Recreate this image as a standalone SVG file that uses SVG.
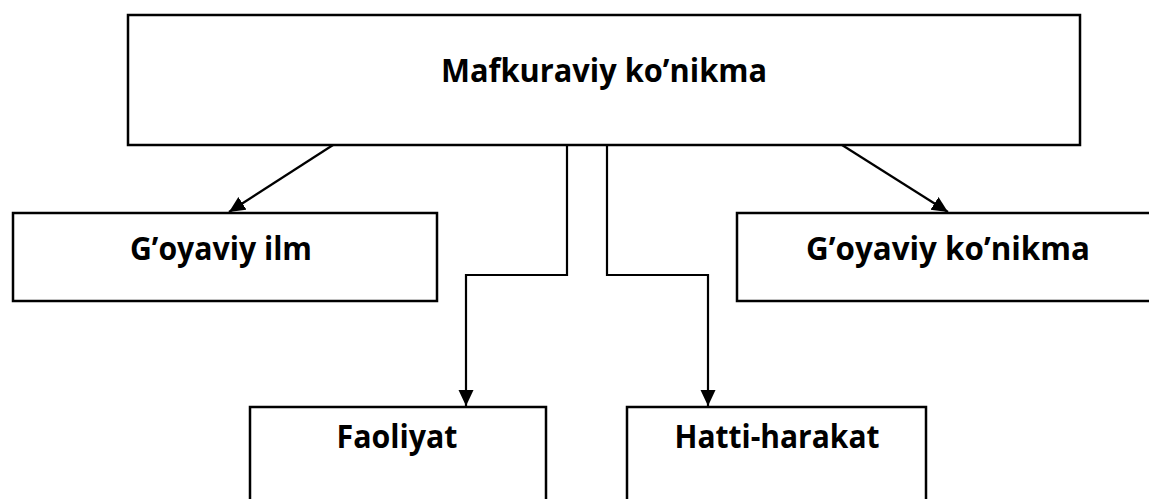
<svg xmlns="http://www.w3.org/2000/svg" width="1149" height="499" viewBox="0 0 1149 499">
  <style>
    .box { fill: #ffffff; stroke: #000000; stroke-width: 2.5; }
    .lbl { font-family: "Open Sans", "Noto Sans", "DejaVu Sans", sans-serif; font-weight: bold; font-size: 32px; fill: #000000; text-anchor: middle; }
    .conn { fill: none; stroke: #000000; stroke-width: 2.2; }
  </style>
  <defs>
    <marker id="arrow" markerUnits="userSpaceOnUse" markerWidth="16" markerHeight="16" refX="16" refY="7.5" orient="auto">
      <path d="M0,0 L16,7.5 L0,15 Z" fill="#000000"/>
    </marker>
  </defs>
  <rect width="1149" height="499" fill="#ffffff"/>

  <g id="node-mafkuraviy">
    <rect class="box" x="128" y="15" width="952" height="130"/>
    <text class="lbl" x="604" y="82" textLength="326" lengthAdjust="spacingAndGlyphs">Mafkuraviy ko’nikma</text>
  </g>
  <g id="node-goyaviy-ilm">
    <rect class="box" x="13" y="213" width="424" height="88"/>
    <text class="lbl" x="221" y="260" textLength="182" lengthAdjust="spacingAndGlyphs">G’oyaviy ilm</text>
  </g>
  <g id="node-goyaviy-konikma">
    <rect class="box" x="737" y="213" width="430" height="88"/>
    <text class="lbl" x="948" y="260" textLength="284" lengthAdjust="spacingAndGlyphs">G’oyaviy ko’nikma</text>
  </g>
  <g id="node-faoliyat">
    <rect class="box" x="250" y="407" width="296" height="110"/>
    <text class="lbl" x="397" y="448" textLength="121" lengthAdjust="spacingAndGlyphs">Faoliyat</text>
  </g>
  <g id="node-hatti-harakat">
    <rect class="box" x="627" y="407" width="299" height="110"/>
    <text class="lbl" x="777" y="448" textLength="205" lengthAdjust="spacingAndGlyphs">Hatti-harakat</text>
  </g>

  <g id="connectors">
    <path class="conn" d="M333,145 L229,212" marker-end="url(#arrow)"/>
    <path class="conn" d="M842,145 L948,212" marker-end="url(#arrow)"/>
    <path class="conn" d="M567,145 L567,275 L466,275 L466,406" marker-end="url(#arrow)"/>
    <path class="conn" d="M607,145 L607,275 L708,275 L708,406" marker-end="url(#arrow)"/>
  </g>
</svg>
